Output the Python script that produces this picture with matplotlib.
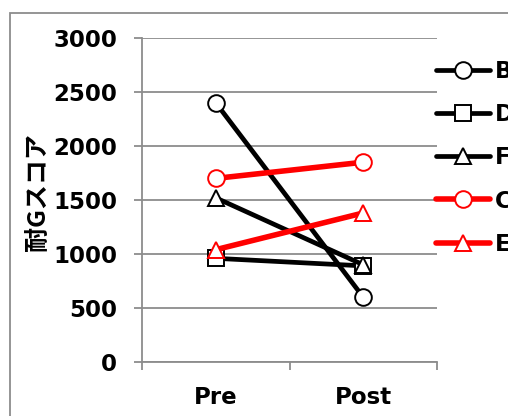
import matplotlib
matplotlib.use("Agg")
import matplotlib.pyplot as plt
from matplotlib.patches import Rectangle
from matplotlib.ticker import FixedLocator, NullFormatter

plt.rcParams['font.family'] = ['DejaVu Sans', 'Noto Sans CJK JP']

# Scores before and after, per subject
phases = ["Pre", "Post"]
subjects = ["B", "D", "F", "C", "E"]
B_vals = [2400, 600]
D_vals = [960, 890]
F_vals = [1520, 900]
C_vals = [1700, 1850]
E_vals = [1040, 1380]
series_vals = [B_vals, D_vals, F_vals, C_vals, E_vals]
series_colors = ["black", "black", "black", "red", "red"]
series_markers = ["o", "s", "^", "o", "^"]
series_widths = [3.4, 3.4, 3.4, 4.0, 4.0]
y_ticks = [0, 500, 1000, 1500, 2000, 2500, 3000]
y_label = "耐Gスコア"

W, H = 508, 416
fig = plt.figure(figsize=(W / 100, H / 100), dpi=100)
ax = fig.add_axes([142 / W, 1 - 362 / H, (437 - 142) / W, (362 - 38) / H])

grid_c = "#8c8c8c"
x = list(range(len(phases)))
for vals, c, m, lw, name in zip(series_vals, series_colors, series_markers,
                                series_widths, subjects):
    ax.plot(x, vals, color=c, lw=lw, marker=m, markersize=12,
            markerfacecolor="white", markeredgecolor=c, markeredgewidth=1.4,
            label=name, solid_capstyle="round", clip_on=False)

ax.set_xlim(-0.5, len(phases) - 0.5)
ax.set_ylim(0, 3000)
ax.set_yticks(y_ticks)
ax.set_yticklabels([str(v) for v in y_ticks], fontsize=16.5, fontweight="bold")
ax.set_xticks(x)
ax.set_xticklabels(phases, fontsize=16.5, fontweight="bold")
ax.xaxis.set_minor_locator(FixedLocator([-0.5, 0.5, 1.5]))
ax.xaxis.set_minor_formatter(NullFormatter())
ax.tick_params(axis="x", which="major", length=0, pad=17)
ax.tick_params(axis="x", which="minor", length=6, width=1.3, color=grid_c,
               direction="out")
ax.tick_params(axis="y", length=6, width=1.3, color=grid_c, pad=12,
               direction="out")
ax.grid(axis="y", color=grid_c, lw=1.3)
ax.set_axisbelow(True)
for s in ["top", "right"]:
    ax.spines[s].set_visible(False)
for s in ["left", "bottom"]:
    ax.spines[s].set_color(grid_c)
    ax.spines[s].set_linewidth(1.3)

fig.text(38 / W, 1 - 192 / H, y_label, rotation=90, ha="center", va="center",
         fontsize=18, fontweight="bold",
         family=["Noto Sans CJK JP", "DejaVu Sans"])

leg = ax.legend(loc="upper left", bbox_to_anchor=(436 / W, 1 - 60 / H),
                bbox_transform=fig.transFigure, frameon=False,
                prop={"size": 16.5, "weight": "bold"},
                handlelength=2.35, handletextpad=0.2, labelspacing=0.88,
                borderaxespad=0, borderpad=0)

# outer chart frame
fig.patches.append(Rectangle((10 / W, -0.2), 1.5, 1.2 - 13 / H, fill=False,
                             edgecolor=grid_c, lw=1.3,
                             transform=fig.transFigure, figure=fig))

fig.savefig("out.png", dpi=100)
